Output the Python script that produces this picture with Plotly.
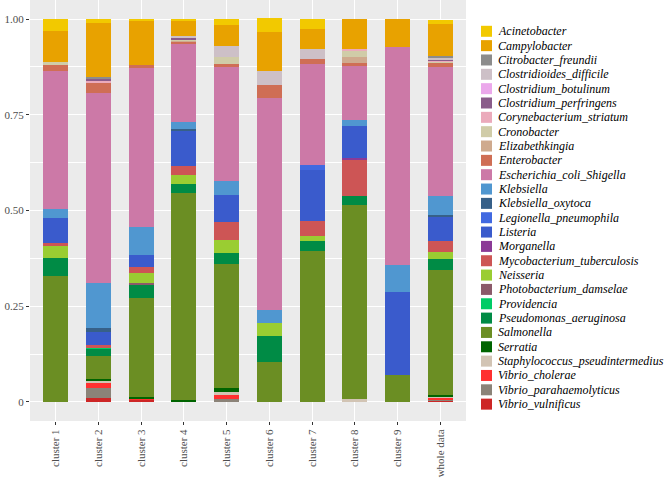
import plotly.graph_objects as go

# clusters on the x axis
clusters = ['cluster 1', 'cluster 2', 'cluster 3', 'cluster 4', 'cluster 5',
            'cluster 6', 'cluster 7', 'cluster 8', 'cluster 9', 'whole data']

# species in legend order (top of stack first)
species = ['Acinetobacter', 'Campylobacter', 'Citrobacter_freundii', 'Clostridioides_difficile',
           'Clostridium_botulinum', 'Clostridium_perfringens', 'Corynebacterium_striatum',
           'Cronobacter', 'Elizabethkingia', 'Enterobacter', 'Escherichia_coli_Shigella',
           'Klebsiella', 'Klebsiella_oxytoca', 'Legionella_pneumophila', 'Listeria',
           'Morganella', 'Mycobacterium_tuberculosis', 'Neisseria', 'Photobacterium_damselae',
           'Providencia', 'Pseudomonas_aeruginosa', 'Salmonella', 'Serratia',
           'Staphylococcus_pseudintermedius', 'Vibrio_cholerae', 'Vibrio_parahaemolyticus',
           'Vibrio_vulnificus']

colors = ['#F2C900', '#E8A200', '#8C8C8C', '#CDC0C7', '#EBA8EB', '#8A5C8A', '#EBAABB',
          '#D0CCA8', '#CFAA8E', '#CF6E55', '#CC79A7', '#5097D0', '#376088', '#4169E1',
          '#3A5BCC', '#8B3A96', '#CD5555', '#9ACD32', '#8B5A6A', '#00CC66', '#008B45',
          '#6B8E23', '#006400', '#D2C4B4', '#FF3030', '#8B8378', '#CD2626']

# relative abundance per cluster, same order as species
cluster_1 = [0.030, 0.081, 0, 0, 0, 0, 0, 0.009, 0, 0.016, 0.360, 0.024, 0, 0, 0.064,
             0, 0.008, 0.031, 0, 0, 0.048, 0.329, 0, 0, 0, 0, 0]
cluster_2 = [0.010, 0.142, 0.004, 0, 0, 0.006, 0.005, 0, 0, 0.026, 0.498, 0.118, 0.009, 0, 0.035,
             0, 0.005, 0, 0, 0.004, 0.018, 0.061, 0.005, 0.004, 0.015, 0.026, 0.010]
cluster_3 = [0.004, 0.116, 0, 0, 0, 0, 0, 0, 0, 0.008, 0.414, 0.074, 0, 0, 0.031,
             0, 0.016, 0.026, 0.006, 0, 0.033, 0.258, 0.005, 0, 0.004, 0, 0.005]
cluster_4 = [0.007, 0.037, 0, 0.005, 0, 0.004, 0, 0.004, 0.003, 0.005, 0.205, 0.017, 0.004, 0, 0.094,
             0, 0.023, 0.023, 0, 0, 0.023, 0.542, 0.005, 0, 0, 0, 0]
cluster_5 = [0.017, 0.055, 0, 0.028, 0, 0, 0, 0.017, 0, 0.009, 0.297, 0.037, 0, 0, 0.072,
             0, 0.045, 0.035, 0, 0, 0.028, 0.325, 0.009, 0.009, 0.010, 0.008, 0]
cluster_6 = [0.035, 0.103, 0, 0.035, 0, 0, 0, 0, 0, 0.035, 0.553, 0.035, 0, 0, 0,
             0, 0, 0.033, 0, 0, 0.070, 0.103, 0, 0, 0, 0, 0]
cluster_7 = [0.026, 0.053, 0, 0.026, 0, 0, 0, 0, 0, 0.013, 0.263, 0, 0, 0.013, 0.133,
             0, 0.040, 0.013, 0, 0, 0.026, 0.394, 0, 0, 0, 0, 0]
cluster_8 = [0, 0.077, 0, 0, 0, 0, 0.007, 0.015, 0.016, 0.008, 0.140, 0.015, 0, 0, 0.085,
             0.006, 0.093, 0, 0, 0, 0.024, 0.506, 0, 0.008, 0, 0, 0]
cluster_9 = [0, 0.072, 0, 0, 0, 0, 0, 0, 0, 0, 0.571, 0.071, 0, 0, 0.215,
             0, 0, 0, 0, 0, 0, 0.071, 0, 0, 0, 0, 0]
whole_data = [0.011, 0.085, 0.003, 0.005, 0, 0.003, 0.003, 0.003, 0, 0.012, 0.335, 0.051, 0.003, 0, 0.065,
              0, 0.028, 0.019, 0, 0, 0.029, 0.325, 0.005, 0.003, 0.004, 0.003, 0.004]

table = [cluster_1, cluster_2, cluster_3, cluster_4, cluster_5,
         cluster_6, cluster_7, cluster_8, cluster_9, whole_data]

W, H = 670, 484
ML, MR, MT, MB = 30, 204, 0, 63
pw, ph = W - ML - MR, H - MT - MB

fig = go.Figure()

# bottom of the stack first
for i in reversed(range(len(species))):
    fig.add_trace(go.Bar(
        x=clusters, y=[row[i] for row in table], name=species[i],
        marker=dict(color=colors[i], line=dict(width=0)),
        width=0.58, showlegend=False,
    ))

# hand-made legend (27 keys don't fit the native one)
def px_x(p):
    return (p - ML) / pw

def px_y(p):
    return (H - MB - p) / ph

shapes = []
annotations = []
for i, name in enumerate(species):
    cy = 31.3 + i * 14.34
    shapes.append(dict(type='rect', xref='paper', yref='paper',
                       x0=px_x(481), x1=px_x(492), y0=px_y(cy + 5.5), y1=px_y(cy - 5.5),
                       fillcolor=colors[i], line=dict(width=0), layer='above'))
    annotations.append(dict(xref='paper', yref='paper', x=px_x(496), y=px_y(cy),
                            text=name, showarrow=False, xanchor='left', yanchor='middle',
                            font=dict(family='Liberation Serif', size=12, color='black',
                                      style='italic')))

fig.update_layout(
    width=W, height=H,
    margin=dict(l=ML, r=MR, t=MT, b=MB),
    barmode='stack',
    bargap=0,
    plot_bgcolor='#EBEBEB',
    paper_bgcolor='white',
    font=dict(family='Liberation Serif', size=11, color='#4D4D4D'),
    shapes=shapes,
    annotations=annotations,
)
fig.update_xaxes(
    type='category', range=[-0.6, 9.6], tickangle=-90, automargin=False,
    showgrid=True, gridcolor='white', gridwidth=1.1,
    ticks='outside', ticklen=3, tickcolor='#333333',
    showline=False, zeroline=False,
)
fig.update_yaxes(
    range=[-0.05, 1.05], automargin=False,
    tickvals=[0, 0.25, 0.5, 0.75, 1.0], ticktext=['0', '0.25', '0.50', '0.75', '1.00'],
    showgrid=True, gridcolor='white', gridwidth=1.1,
    minor=dict(tickvals=[0.125, 0.375, 0.625, 0.875], showgrid=True,
               gridcolor='white', gridwidth=0.5, ticks=''),
    ticks='outside', ticklen=3, tickcolor='#333333',
    showline=False, zeroline=False,
)

# drop the default page margin so the figure sits at the window's corner
fig.write_html("out.html", config={'displayModeBar': False},
               post_script="document.body.style.margin='0';")
